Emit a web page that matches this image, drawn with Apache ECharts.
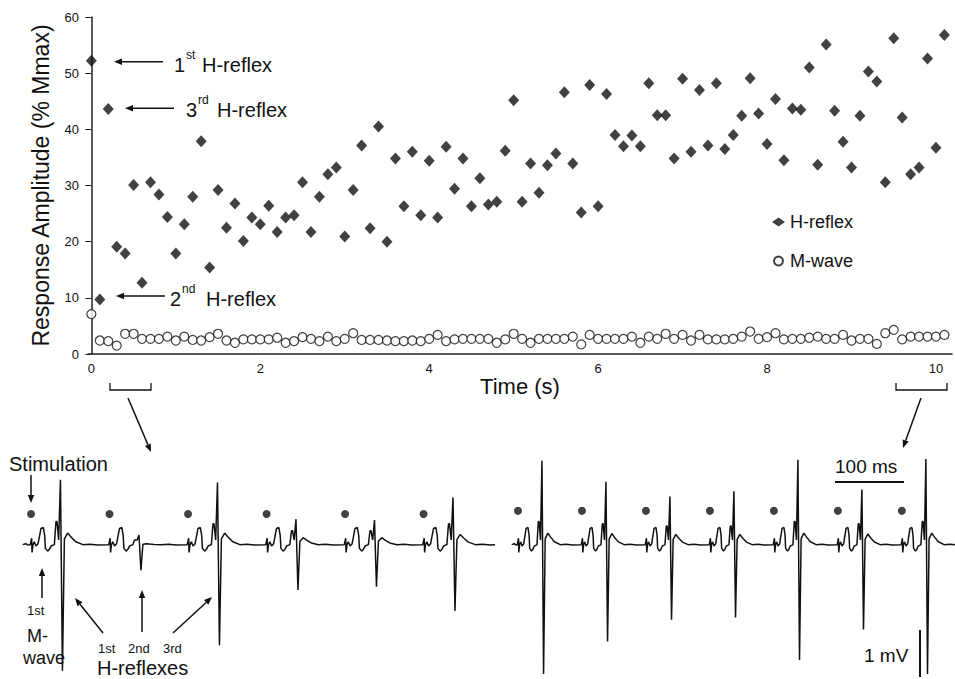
<!DOCTYPE html>
<html>
<head>
<meta charset="utf-8">
<script src="https://cdn.jsdelivr.net/npm/echarts@6/dist/echarts.min.js"></script>
<style>
  html, body { margin: 0; padding: 0; background: #fff; }
  #myChart { width: 955px; height: 679px; }
</style>
</head>
<body>
<div id="myChart"></div>
<script>
// time of each stimulus (s), 10 Hz train
const timeS = [0,0.1,0.2,0.3,0.4,0.5,0.6,0.7,0.8,0.9,1,1.1,1.2,1.3,1.4,1.5,1.6,1.7,1.8,1.9,
  2,2.1,2.2,2.3,2.4,2.5,2.6,2.7,2.8,2.9,3,3.1,3.2,3.3,3.4,3.5,3.6,3.7,3.8,3.9,
  4,4.1,4.2,4.3,4.4,4.5,4.6,4.7,4.8,4.9,5,5.1,5.2,5.3,5.4,5.5,5.6,5.7,5.8,5.9,
  6,6.1,6.2,6.3,6.4,6.5,6.6,6.7,6.8,6.9,7,7.1,7.2,7.3,7.4,7.5,7.6,7.7,7.8,7.9,
  8,8.1,8.2,8.3,8.4,8.5,8.6,8.7,8.8,8.9,9,9.1,9.2,9.3,9.4,9.5,9.6,9.7,9.8,9.9,10,10.1];

// % Mmax
const hReflex = [52.2,9.7,43.6,19.1,17.9,30.1,12.7,30.6,28.4,24.4,17.9,23.1,28.0,37.9,15.4,29.2,22.5,26.8,20.1,24.3,
  23.1,26.4,21.7,24.3,24.7,30.6,21.7,28.0,32.0,33.2,20.9,29.2,37.1,22.4,40.5,20.0,34.8,26.3,36.0,24.7,
  34.4,24.3,36.9,29.4,34.8,26.3,31.3,26.6,27.1,36.2,45.2,27.1,33.9,28.7,33.6,35.7,46.6,33.9,25.2,47.9,
  26.3,46.3,39.0,37.0,38.9,37.0,48.2,42.5,42.5,34.8,49.0,36.0,47.0,37.1,48.2,36.5,39.0,42.4,49.1,42.8,
  37.4,45.4,34.5,43.7,43.5,51.0,33.7,55.1,43.3,37.8,33.2,42.4,50.3,48.5,30.6,56.2,42.1,32.0,33.2,52.6,
  36.7,56.8];
const mWave = [7.1,2.4,2.3,1.5,3.6,3.6,2.7,2.7,2.7,3.1,2.4,3.1,2.5,2.4,3.0,3.6,2.4,2.0,2.6,2.6,
  2.6,2.6,2.9,2.0,2.3,3.0,2.7,2.3,3.1,2.3,2.7,3.7,2.5,2.5,2.5,2.4,2.3,2.3,2.4,2.3,
  2.7,3.4,2.3,2.6,2.7,2.7,2.7,2.7,2.0,2.6,3.6,2.7,2.0,2.7,2.7,2.7,2.7,3.1,1.7,3.4,
  2.7,2.7,2.7,2.7,3.1,2.0,3.1,2.7,3.6,2.7,3.4,2.4,3.4,2.6,2.6,2.6,2.7,3.1,4.0,2.7,
  3.0,3.7,2.6,2.7,2.7,2.9,3.1,2.7,2.7,3.4,2.4,2.7,2.7,1.8,3.7,4.3,2.6,3.1,3.1,3.1,
  3.1,3.4];
const xTicks = [0, 2, 4, 6, 8, 10];

// EMG traces: stimulus times (ms) and H-reflex peaks (mV)
const earlyStimMs = [0, 100, 200, 300, 400, 500];
const earlyHTop = [1.40, 0.21, 1.34, 0.55, 0.53, 1.02];
const earlyHBottom = [-2.72, -0.55, -2.17, -0.98, -0.91, -1.43];
const earlyPre = [0.50, 0.10, 0.45, 0.30, 0.30, 0.45];
const earlyBump = [0.25, 0.02, 0.25, 0.15, 0.15, 0.22];
const lateStimMs = [0, 100, 200, 300, 400, 500, 600];
const lateHTop = [1.81, 1.36, 1.04, 1.15, 1.83, 1.19, 1.85];
const lateHBottom = [-2.79, -2.09, -1.62, -1.57, -2.49, -1.83, -2.79];
const latePre = [0.50, 0.45, 0.40, 0.40, 0.50, 0.45, 0.50];
const lateBump = [0.25, 0.24, 0.22, 0.22, 0.25, 0.23, 0.25];

// one sweep: [ms after stim, mV]
const mWaveShape = [[-1,0],[0.8,0.14],[1.3,-0.17],[2.5,0],[4.2,0.06],[6.4,-0.03],[9,0.02],
  [12.7,0.35],[15.7,0.37],[17.4,0.2],[18.3,-0.08],[21.2,-0.14],[23.4,-0.1],[25.5,-0.03],[29.7,0]];

function buildTrace(stims, tops, bottoms, pres, bumps, startMs, endMs) {
  const pts = [[startMs, 0], [startMs + 4, 0.02], [startMs + 7, -0.01]];
  stims.forEach(function (t0, i) {
    mWaveShape.forEach(function (p) { pts.push([t0 + p[0], p[1]]); });
    pts.push([t0 + 31.8, pres[i]], [t0 + 33.1, pres[i]], [t0 + 35.2, 0.1],
      [t0 + 37.5, tops[i]], [t0 + 40, bottoms[i]], [t0 + 42.5, bumps[i] * 0.5],
      [t0 + 46.7, bumps[i]], [t0 + 51, bumps[i] * 0.65], [t0 + 57, bumps[i] * 0.25],
      [t0 + 66, 0], [t0 + 75, 0.01], [t0 + 85, -0.01]);
  });
  pts.push([endMs, 0]);
  return pts.filter(function (p) { return p[0] <= endMs; });
}

const earlyTrace = buildTrace(earlyStimMs, earlyHTop, earlyHBottom, earlyPre, earlyBump, -10.6, 591);
const lateTrace = buildTrace(lateStimMs, lateHTop, lateHBottom, latePre, lateBump, -9.8, 683);

const FONT = '"Liberation Sans", Arial, Helvetica, sans-serif';
const INK = '#111';

function txt(text, x, y, size, extra) {
  return Object.assign({ type: 'text', style: { text: text, x: x, y: y, fill: INK,
    font: size + 'px ' + FONT, verticalAlign: 'middle' } }, extra || {});
}
function arrow(x1, y1, x2, y2) {
  const a = Math.atan2(y2 - y1, x2 - x1), L = 8, W = 3.2;
  const bx = x2 - L * Math.cos(a), by = y2 - L * Math.sin(a);
  return [
    { type: 'line', shape: { x1: x1, y1: y1, x2: bx, y2: by }, style: { stroke: INK, lineWidth: 1.5 } },
    { type: 'polygon', shape: { points: [[x2, y2],
      [bx + W * Math.sin(a), by - W * Math.cos(a)], [bx - W * Math.sin(a), by + W * Math.cos(a)]] },
      style: { fill: INK } }
  ];
}
function bracket(x1, x2, y) {
  return { type: 'polyline', shape: { points: [[x1, y - 7], [x1, y], [x2, y], [x2, y - 7]] },
    style: { stroke: INK, lineWidth: 1.3, fill: null } };
}

const graphics = [].concat(
  arrow(163, 61.7, 114, 61.7), arrow(174, 108.3, 125, 108.3), arrow(165, 296, 116, 296),
  [txt('1', 174, 65, 20), txt('st', 186, 55, 12), txt('H-reflex', 202, 65, 20),
   txt('3', 186, 110, 20), txt('rd', 198, 100, 12), txt('H-reflex', 217, 110, 20),
   txt('2', 170, 299, 20), txt('nd', 182, 289, 12), txt('H-reflex', 206, 299, 20)],
  [bracket(110, 151, 390), bracket(896, 947, 390)],
  arrow(128, 398, 151, 452), arrow(921, 398, 903, 448),
  [txt('Stimulation', 9, 464, 20)], arrow(31, 475, 31, 503),
  arrow(42, 598, 42, 568), [txt('1st', 27, 610, 13), txt('M-', 27, 636, 18), txt('wave', 23, 658, 18)],
  arrow(103, 633, 75, 598), arrow(142, 632, 142, 590), arrow(173, 633, 212, 597),
  [txt('1st', 98, 648, 13), txt('2nd', 128, 648, 13), txt('3rd', 163, 648, 13),
   txt('H-reflexes', 97, 668, 20)],
  [txt('100 ms', 835, 466, 19),
   { type: 'line', shape: { x1: 835, y1: 482, x2: 904, y2: 482 }, style: { stroke: INK, lineWidth: 2 } },
   txt('1 mV', 864, 655, 19),
   { type: 'line', shape: { x1: 920, y1: 630, x2: 920, y2: 677 }, style: { stroke: INK, lineWidth: 2 } }]
);

const traceAxis = { show: false, type: 'value' };

const option = {
  animation: false,
  backgroundColor: '#fff',
  textStyle: { fontFamily: FONT, color: INK },
  grid: [
    { left: 88, top: 17, width: 864, height: 337 },
    { left: 22.7, top: 452, width: 472.3, height: 230 },
    { left: 511.7, top: 452, width: 443.3, height: 230 }
  ],
  legend: {
    orient: 'vertical', left: 767, top: 208, itemGap: 21, itemWidth: 13, itemHeight: 9,
    itemTextGap: 15, textStyle: { fontSize: 18, color: INK, fontFamily: FONT },
    data: ['H-reflex', 'M-wave']
  },
  xAxis: [
    { gridIndex: 0, type: 'value', min: -0.04, max: 10.19,
      name: 'Time (s)', nameLocation: 'middle', nameGap: 21,
      nameTextStyle: { fontSize: 22, color: INK, fontFamily: FONT },
      axisLine: { lineStyle: { color: '#222', width: 1.5 } },
      axisTick: { show: false, customValues: xTicks },
      axisLabel: { customValues: xTicks, fontSize: 13, color: INK, margin: 8 },
      splitLine: { show: false } },
    Object.assign({ gridIndex: 1, min: -10.6, max: 591 }, traceAxis),
    Object.assign({ gridIndex: 2, min: -9.8, max: 683 }, traceAxis)
  ],
  yAxis: [
    { gridIndex: 0, type: 'value', min: 0, max: 60, interval: 10,
      name: 'Response Amplitude (% Mmax)', nameLocation: 'middle', nameGap: 36,
      nameTextStyle: { fontSize: 23, color: INK, fontFamily: FONT },
      axisLine: { show: true, lineStyle: { color: '#222', width: 1.5 } },
      axisTick: { show: true, length: 6, lineStyle: { color: '#222' } },
      axisLabel: { fontSize: 13, color: INK, margin: 9 },
      splitLine: { show: false } },
    Object.assign({ gridIndex: 1, min: -2.9, max: 2.0 }, traceAxis),
    Object.assign({ gridIndex: 2, min: -2.9, max: 2.0 }, traceAxis)
  ],
  series: [
    { name: 'M-wave', type: 'scatter', xAxisIndex: 0, yAxisIndex: 0,
      symbol: 'circle', symbolSize: 9,
      itemStyle: { color: '#fff', borderColor: INK, borderWidth: 1.2 },
      data: timeS.map(function (t, i) { return [t, mWave[i]]; }) },
    { name: 'H-reflex', type: 'scatter', xAxisIndex: 0, yAxisIndex: 0,
      symbol: 'diamond', symbolSize: [11, 12],
      itemStyle: { color: INK },
      data: timeS.map(function (t, i) { return [t, hReflex[i]]; }) },
    { type: 'line', xAxisIndex: 1, yAxisIndex: 1, showSymbol: false, silent: true,
      lineStyle: { color: INK, width: 1.5 }, data: earlyTrace },
    { type: 'scatter', xAxisIndex: 1, yAxisIndex: 1, symbol: 'circle', symbolSize: 8,
      itemStyle: { color: INK }, data: earlyStimMs.map(function (t) { return [t, 0.66]; }) },
    { type: 'line', xAxisIndex: 2, yAxisIndex: 2, showSymbol: false, silent: true,
      lineStyle: { color: INK, width: 1.5 }, data: lateTrace },
    { type: 'scatter', xAxisIndex: 2, yAxisIndex: 2, symbol: 'circle', symbolSize: 8,
      itemStyle: { color: INK }, data: lateStimMs.map(function (t) { return [t, 0.73]; }) }
  ],
  graphic: graphics
};

const chart = echarts.init(document.getElementById('myChart'), null, { renderer: 'svg' });
chart.setOption(option);
</script>
</body>
</html>
